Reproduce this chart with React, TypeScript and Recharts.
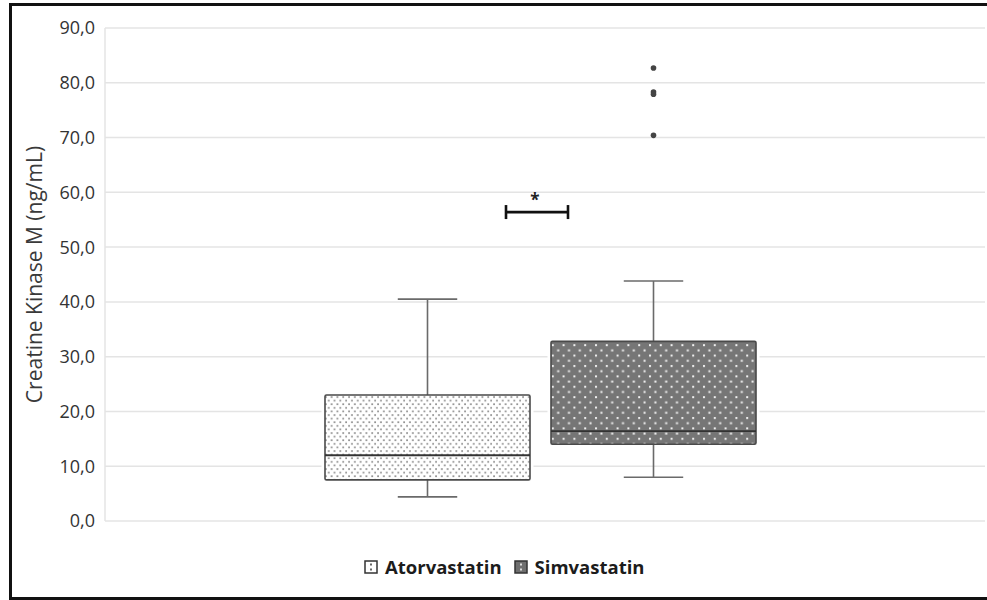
import React from "react";
import { ComposedChart, Bar, XAxis, YAxis, CartesianGrid } from "recharts";

const categories = ["CK-M"];
const seriesNames = ["Atorvastatin", "Simvastatin"];
const whiskerLow = [4.4, 8.0];
const q1 = [7.5, 14.0];
const median = [12.0, 16.4];
const q3 = [23.0, 32.8];
const whiskerHigh = [40.5, 43.8];
const outliers: number[][] = [[], [82.7, 78.3, 77.9, 70.4]];
const yTicks = [0, 10, 20, 30, 40, 50, 60, 70, 80, 90];
const significanceLevel = [56.4];
const significanceLabel = ["*"];

const data = categories.map((c) => ({
  name: c,
  s0: [q1[0], q3[0]],
  s1: [q1[1], q3[1]],
}));

const fills = ["url(#patAtorva)", "url(#patSimva)"];
const FONT = "'Open Sans', 'DejaVu Sans', sans-serif";

const makeBoxShape = (i: number) => (props: any) => {
  const { x, width } = props;
  const h = Math.abs(props.height);
  const top = props.height >= 0 ? props.y : props.y + props.height;
  const k = h / (q3[i] - q1[i]);
  const yv = (v: number) => top + (q3[i] - v) * k;
  const cx = x + width / 2;
  const cap = width * 0.29;
  const els: any[] = [];
  els.push(
    <rect key="halo" x={x} y={top} width={width} height={h} fill="none" stroke="#fff" strokeWidth={7} />
  );
  els.push(
    <line key="wu" x1={cx} x2={cx} y1={yv(q3[i])} y2={yv(whiskerHigh[i])} stroke="#6a6a6a" strokeWidth={1.6} />,
    <line key="wuc" x1={cx - cap / 2} x2={cx + cap / 2} y1={yv(whiskerHigh[i])} y2={yv(whiskerHigh[i])} stroke="#6a6a6a" strokeWidth={1.6} />,
    <line key="wl" x1={cx} x2={cx} y1={yv(q1[i])} y2={yv(whiskerLow[i])} stroke="#6a6a6a" strokeWidth={1.6} />,
    <line key="wlc" x1={cx - cap / 2} x2={cx + cap / 2} y1={yv(whiskerLow[i])} y2={yv(whiskerLow[i])} stroke="#6a6a6a" strokeWidth={1.6} />
  );
  els.push(
    <rect key="box" x={x} y={top} width={width} height={h} fill={fills[i]} stroke="#4a4a4a" strokeWidth={1.6} rx={1.5} />,
    <line key="med" x1={x} x2={x + width} y1={yv(median[i])} y2={yv(median[i])} stroke="#333" strokeWidth={1.8} />
  );
  outliers[i].forEach((o, j) => {
    els.push(<circle key={"o" + j} cx={cx} cy={yv(o)} r={2.8} fill="#444" />);
  });
  if (i === 1) {
    const sy = yv(significanceLevel[0]);
    const bx1 = x - 45;
    const bx2 = x + 17;
    els.push(
      <line key="b1" x1={bx1} x2={bx2} y1={sy} y2={sy} stroke="#111" strokeWidth={2.8} />,
      <line key="b2" x1={bx1} x2={bx1} y1={sy - 7} y2={sy + 7} stroke="#111" strokeWidth={2.6} />,
      <line key="b3" x1={bx2} x2={bx2} y1={sy - 7} y2={sy + 7} stroke="#111" strokeWidth={2.6} />,
      <text key="bt" x={(bx1 + bx2) / 2 - 2} y={sy - 6} textAnchor="middle" fontSize={17} fontWeight={700} fill="#222" fontFamily={FONT}>
        {significanceLabel[0]}
      </text>
    );
  }
  return <g>{els}</g>;
};

const LegendIcon = ({ i }: { i: number }) => (
  <svg width={14} height={14} style={{ display: "block" }}>
    <rect x={1} y={1} width={12} height={12} fill={i === 0 ? "#fff" : "#6f6f6f"} stroke="#333" strokeWidth={1.5} />
    <rect x={6} y={3.5} width={2} height={2} fill={i === 0 ? "#666" : "#ddd"} />
    <rect x={6} y={8.5} width={2} height={2} fill={i === 0 ? "#666" : "#ddd"} />
  </svg>
);

export default function App() {
  return (
    <div style={{ position: "fixed", left: 0, top: 0, width: 987, height: 600, background: "#fff" }}>
      <ComposedChart
        width={987}
        height={600}
        data={data}
        margin={{ top: 28, right: 2, bottom: 79, left: 0 }}
        barGap={21}
        barSize={205}
      >
        <defs>
          <pattern id="patAtorva" width={5.8} height={7.2} patternUnits="userSpaceOnUse">
            <rect width={6} height={8} fill="#fff" />
            <rect x={0.2} y={0.2} width={1.7} height={1.7} fill="#8c8c8c" />
            <rect x={3.1} y={3.8} width={1.7} height={1.7} fill="#8c8c8c" />
          </pattern>
          <pattern id="patSimva" width={10.8} height={10.4} patternUnits="userSpaceOnUse">
            <rect width={12} height={12} fill="#767676" />
            <rect x={1} y={1} width={2} height={2} fill="#f2f2f2" />
            <rect x={6.4} y={6.2} width={2} height={2} fill="#f2f2f2" />
          </pattern>
        </defs>
        <CartesianGrid vertical={false} stroke="#e4e4e4" strokeWidth={1.5} />
        <XAxis dataKey="name" hide padding={{ left: 0, right: 10 }} />
        <YAxis
          domain={[0, 90]}
          ticks={yTicks}
          width={105}
          tickSize={0}
          tickMargin={10}
          tickLine={false}
          axisLine={{ stroke: "#e4e4e4", strokeWidth: 1.5 }}
          tickFormatter={(v: number) => v.toFixed(1).replace(".", ",")}
          tick={{ fontSize: 18, fill: "#333", fontFamily: FONT }}
          label={{
            value: "Creatine Kinase M (ng/mL)",
            angle: -90,
            position: "insideLeft",
            offset: 35,
            style: { textAnchor: "middle", fontSize: 21, fill: "#3a3a3a", fontFamily: FONT },
          }}
        />
        {seriesNames.map((s, i) => (
          <Bar
            key={s}
            dataKey={"s" + i}
            name={s}
            isAnimationActive={false}
            shape={makeBoxShape(i)}
          />
        ))}
      </ComposedChart>
      <div
        style={{
          position: "absolute",
          left: 364,
          top: 555,
          display: "flex",
          alignItems: "center",
          fontFamily: FONT,
          fontWeight: 700,
          fontSize: 18.5,
          color: "#1c1c1c",
          lineHeight: "24px",
        }}
      >
        {seriesNames.map((s, i) => (
          <div key={s} style={{ display: "flex", alignItems: "center", marginRight: 12 }}>
            <LegendIcon i={i} />
            <span style={{ marginLeft: 7 }}>{s}</span>
          </div>
        ))}
      </div>
      <div
        style={{
          position: "absolute",
          left: 9,
          top: 3,
          width: 990,
          height: 591,
          borderLeft: "3px solid #111",
          borderTop: "3px solid #111",
          borderBottom: "3px solid #111",
          pointerEvents: "none",
        }}
      />
    </div>
  );
}
